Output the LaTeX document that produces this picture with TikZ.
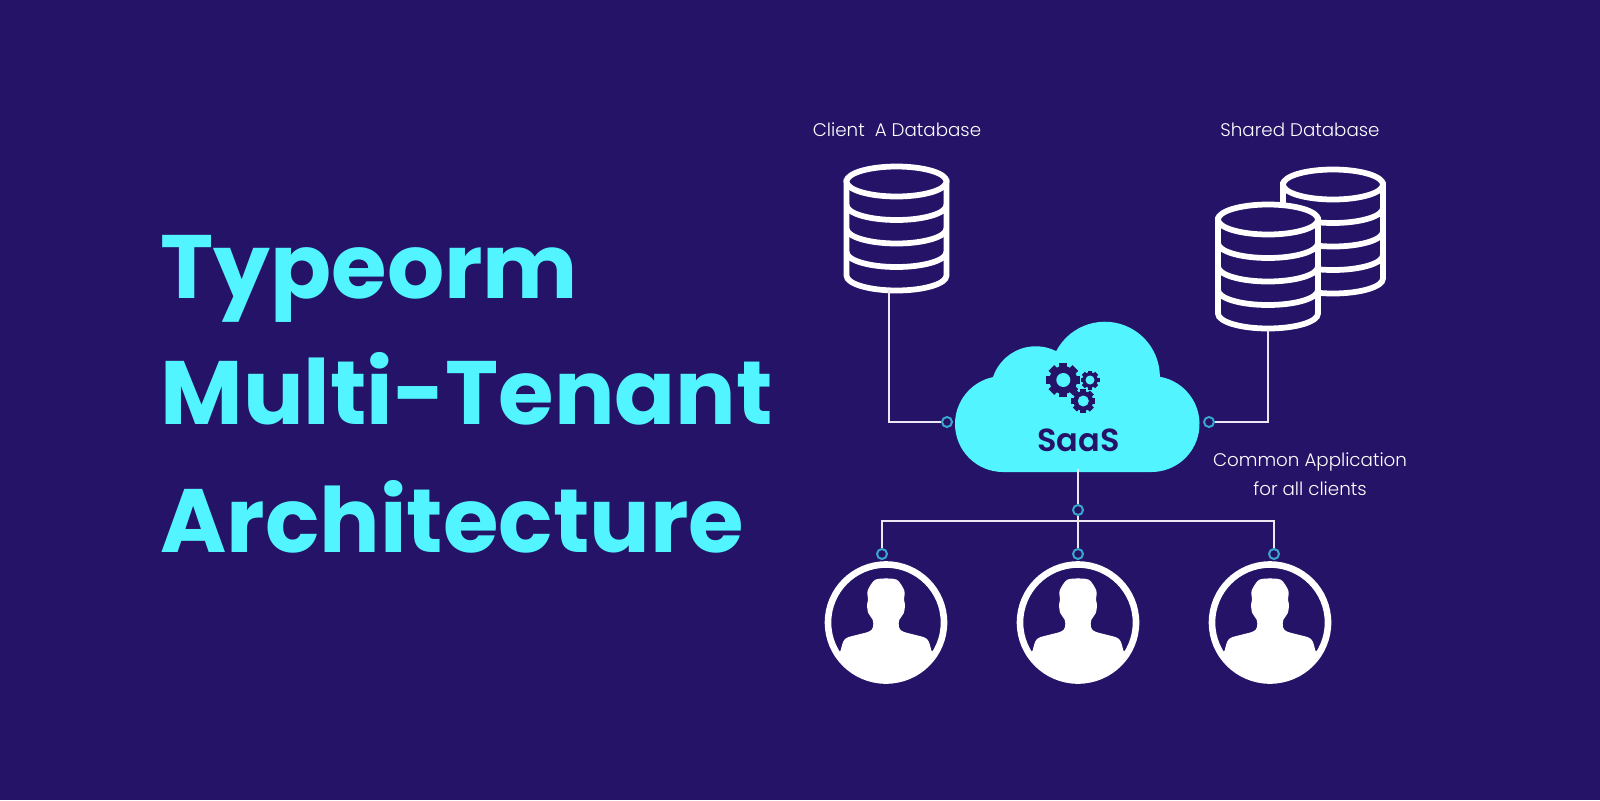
\documentclass[tikz,border=0pt]{standalone}
\usepackage{fontspec}
\newfontfamily\titlefont{Poppins}[UprightFont=* Bold]
\newfontfamily\labelfont{Poppins}[UprightFont=* Light]
\newfontfamily\saasfont{Poppins}[UprightFont=* SemiBold]
\definecolor{bgdark}{RGB}{37,19,104}
\definecolor{cyanfill}{RGB}{82,245,255}
\definecolor{dotblue}{RGB}{58,168,204}
\definecolor{wirecol}{RGB}{235,232,243}
\tikzset{
  titletext/.style={anchor=base west,text=cyanfill,font=\titlefont\fontsize{128}{128}\selectfont},
  labeltext/.style={text=white,align=center,font=\labelfont\fontsize{26}{42}\selectfont},
  wire/.style={draw=wirecol,line width=2.8pt},
  dot/.style={circle,draw=dotblue,fill=bgdark,line width=2.8pt,minimum size=5mm,inner sep=0pt},
  dbline/.style={draw=white,line width=8.2pt,fill=bgdark},
  ring/.style={circle,draw=white,line width=9.4pt,minimum size=58mm,inner sep=0pt}
}
\begin{document}
\begin{tikzpicture}[x=0.5mm,y=-0.5mm]
\useasboundingbox[fill=bgdark](0,0)rectangle(1600,800);
\node[titletext](title1)at(158,298){Typeorm};
\node[titletext](title2)at(158,424){Multi-Tenant};
\node[titletext](title3)at(158,552){Architecture};
\node[labeltext](labelA)at(897,130){Client\ \ A Database};
\node[labeltext](labelS)at(1300,130){Shared Database};
\node[labeltext](labelC)at(1310,474){Common Application\\for all clients};
% databases, back one first
\foreach \cx/\cy in {896.5/181.5,1333/184.5,1268/219.5}{
  \draw[dbline](\cx-50,\cy)--(\cx-50,\cy+94)arc[start angle=180,end angle=0,x radius=50,y radius=15]--(\cx+50,\cy)--cycle;
  \draw[dbline](\cx,\cy)circle[x radius=50,y radius=15];
  \foreach \k in {1,2,3}{\draw[dbline,fill=none](\cx-50,\cy+23.5*\k)arc[start angle=180,end angle=0,x radius=50,y radius=15];}
}
% cloud
\fill[cyanfill](1003,472)arc[start angle=90,end angle=258,radius=48]
  arc[start angle=198.4,end angle=297,radius=45]
  arc[start angle=207.7,end angle=360,radius=55]
  arc[start angle=280,end angle=450,radius=48]--cycle;
\foreach \gx/\gy/\gr/\gh in {1063.3/380/17/7,1090/380/9.5/4.5,1083.3/401/12/5.5}{
  \foreach \a in {0,45,...,315}{\fill[bgdark,shift={(\gx,\gy)},rotate=\a](-0.24*\gr,0.7*\gr)rectangle(0.24*\gr,\gr);}
  \fill[bgdark](\gx,\gy)circle[radius=0.82*\gr];
  \fill[cyanfill](\gx,\gy)circle[radius=\gh];
}
\node[text=bgdark,font=\saasfont\fontsize{45.5}{46}\selectfont](saas)at(1078.5,440){SaaS};
% users
\foreach \px/\nm in {886/userA,1078/userB,1270/userC}{
  \node[ring](\nm)at(\px,622.5){};
  \foreach \s in {1,-1}{
    \fill[white,shift={(\px,622.5)},xscale=\s](0.5,56)arc[start angle=90,end angle=148,radius=56]--plot[smooth,tension=0.5]coordinates{(-45.3,28)(-42.7,19)(-37.7,14.7)(-17.7,9.3)(-13,4.7)(-13.3,-2.7)(-17.7,-9.3)(-19,-17.7)(-18,-22.7)(-18.3,-32)(-11,-42.7)(0.5,-44)}--cycle;
  }
}
% connectors
\coordinate(dbA)at(889,290);
\coordinate(dbS)at(1268,330);
\coordinate(cloudB)at(1078,469);
\coordinate(busC)at(1078,521);
\node[dot](dotL)at(947,422){};
\node[dot](dotR)at(1209,422){};
\node[dot](dotB)at(1078,510){};
\node[dot](dotU1)at(882,554){};
\node[dot](dotU2)at(1078,554){};
\node[dot](dotU3)at(1274,554){};
\draw[wire](dbA)|-(dotL);
\draw[wire](dbS)|-(dotR);
\draw[wire](cloudB)--(dotB);
\draw[wire](dotB)--(busC);
\draw[wire](dotU1)|-(busC);
\draw[wire](dotU3)|-(busC);
\draw[wire](busC)--(dotU2);
\end{tikzpicture}
\end{document}
